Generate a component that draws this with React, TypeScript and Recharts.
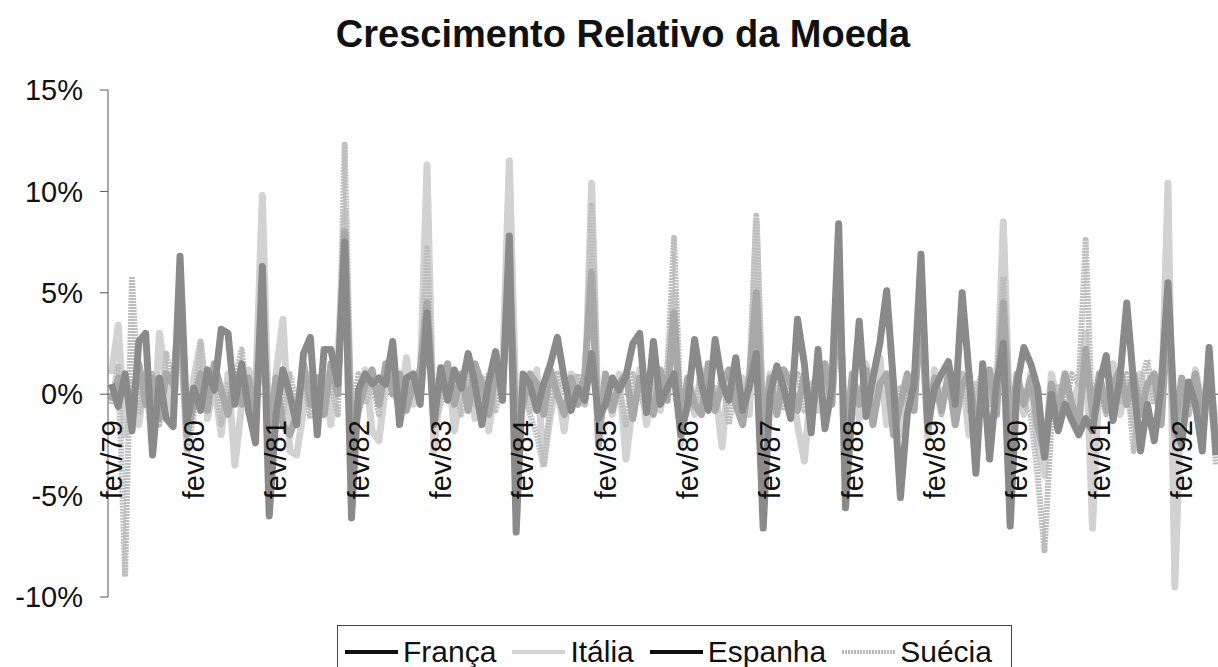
import { LineChart, Line, XAxis, YAxis, ReferenceLine } from "recharts";

// monthly relative growth (%), fev/79 .. jul/92, one row per year (fev..jan)
const MONTHS = ["jan", "fev", "mar", "abr", "mai", "jun", "jul", "ago", "set", "out", "nov", "dez"];
const FIRST_YEAR = 1979;
const FIRST_MONTH = 1; // fev

const FRANCA = [
  0.5, -0.6, 1.0, -1.8, 2.6, 3.0, -3.0, 0.8, -1.2, -1.6, 6.8, -1.4,
  0.3, -0.8, 1.2, 0.2, 3.2, 3.0, -0.5, 1.5, -0.8, -2.4, 6.3, -6.0,
  -1.0, 1.2, 0.0, -1.5, 2.0, 2.8, -2.0, 2.2, 2.2, 0.5, 7.5, -6.1,
  0.2, 1.0, 0.5, 0.8, 0.5, 2.6, -1.5, 0.8, 1.0, -0.5, 4.0, -1.5,
  1.3, -0.3, 1.2, 0.3, 2.0, 0.5, -1.5, 0.6, 2.1, -0.3, 7.8, -6.8,
  1.0, 0.5, -0.8, 0.5, 1.5, 2.8, 0.8, -0.8, 0.3, -0.3, 2.0, -1.2,
  -0.5, 0.8, 0.2, 0.9, 2.5, 3.0, -0.9, 2.6, -0.5, 0.3, 1.0, -2.0,
  -0.5, 2.7, 0.5, -0.8, 2.7, 0.6, -0.3, 1.8, -0.8, 0.4, 2.0, -6.6,
  0.0, 1.4, 0.3, -1.2, 3.7, 1.5, -1.9, 2.2, -1.7, 0.3, 8.4, -5.6,
  -0.5, 3.6, -1.1, 0.8, 2.5, 5.1, 0.5, -5.1, -1.0, 0.5, 6.9, -1.5,
  0.3, 1.0, 1.6, -0.5, 5.0, 1.0, -3.9, 1.5, -3.2, 0.5, 2.5, -6.5,
  0.5, 2.3, 1.5, 0.3, -3.1, 0.0, -1.8, -0.5, -1.3, -2.0, -1.2, -1.8,
  0.5, 1.9, -1.3, 0.8, 4.5, 0.5, -2.8, -0.5, -2.3, 0.3, 5.5, -1.5,
  -2.5, 0.6, -0.5, -2.8, 2.3, -3.0,
];

const ITALIA = [
  1.0, 3.4, -2.0, 0.5, -1.5, 1.0, -2.8, 3.0, 0.5, -1.0, 4.0, -1.8,
  0.8, 2.5, -1.2, 0.5, -2.0, 1.0, -3.5, -0.5, 1.2, 0.0, 9.8, -2.5,
  1.0, 3.7, -2.8, -3.0, -0.8, 1.0, -0.5, 0.8, -1.5, 1.5, 9.0, -2.0,
  -0.5, 1.2, -1.8, -2.3, 0.5, 1.0, -0.8, 1.8, -0.5, 0.5, 11.3, -2.8,
  0.5, 1.5, -1.8, 0.2, 1.0, -1.2, 0.8, -1.8, 0.5, 1.0, 11.5, -1.0,
  0.5, -0.8, 1.2, -3.4, -1.0, 0.5, -1.8, 1.0, 0.2, -0.5, 10.4, -2.0,
  0.3, -1.0, 1.0, -3.2, -0.5, 1.2, -1.5, 0.5, -0.8, 1.0, 5.0, -2.5,
  0.5, -1.0, 1.2, -0.5, 0.3, -2.6, 1.0, -0.5, 0.8, -1.0, 8.5, -1.8,
  1.0, -0.8, 0.5, 1.0, -1.5, -3.3, 0.5, -0.8, 1.2, -0.5, 5.5, -2.5,
  0.8, -1.2, 1.5, -0.5, 1.8, -1.5, 0.5, -2.0, 0.8, -0.5, 4.5, -2.2,
  1.2, -0.5, 0.8, -1.5, 1.0, -2.0, 0.5, -1.0, 1.0, -0.8, 8.5, -2.0,
  0.5, -1.0, 1.0, -2.5, -4.0, 1.0, -0.5, 1.0, -0.8, 0.5, 3.0, -6.6,
  0.8, -0.5, 1.5, -1.0, 0.5, -1.5, 1.0, -0.5, 0.8, -1.2, 10.4, -9.5,
  0.5, -1.0, 1.2, -0.5, 0.8, -1.5,
];

const ESPANHA = [
  -0.3, 0.8, 0.5, -0.8, 1.5, -0.5, 0.8, -1.2, 1.0, 0.5, 4.5, -2.0,
  -0.5, 1.0, -0.8, 1.5, 0.2, -1.0, 1.0, -0.5, 0.8, -1.2, 4.0, -2.0,
  0.8, -1.5, -2.0, -1.0, 1.5, -0.5, 0.8, -1.0, 1.5, 0.0, 8.0, -2.5,
  -0.8, 0.5, 1.2, -0.5, 1.5, 0.0, 1.0, -0.8, 0.5, 1.2, 4.5, -1.0,
  0.8, 1.5, -0.5, 1.0, -0.8, 1.5, 0.5, -1.0, 1.0, 0.3, 6.0, -1.8,
  -0.5, 1.0, 0.5, -1.0, 1.2, 0.0, -1.0, 0.8, -0.5, 1.0, 6.0, -2.5,
  1.0, -0.8, 0.5, 1.0, -1.2, 0.8, 0.3, -1.0, 1.2, -0.3, 4.0, -1.5,
  0.8, -0.5, -1.0, 1.5, -0.8, 0.5, 1.2, -0.5, -1.5, 0.8, 5.0, -2.0,
  0.8, -1.0, 1.2, 0.5, -0.8, 1.0, -1.0, 0.5, 1.5, -0.5, 5.5, -2.5,
  1.0, -0.5, 1.2, -1.5, 0.5, 1.0, -2.0, -0.5, 1.0, -0.8, 4.5, -1.8,
  0.8, -0.8, 1.0, -1.5, 0.5, 1.0, -1.5, -0.5, 1.2, -1.0, 4.5, -2.0,
  1.0, -0.5, 0.8, -1.5, -3.0, 0.5, -1.0, 1.0, -0.5, -1.5, 2.2, -1.0,
  1.0, -0.8, 0.5, 1.2, -0.5, 1.0, -1.0, 0.5, 1.0, -1.5, 4.0, -2.0,
  0.8, -0.5, 1.0, -1.0, 0.5, -2.5,
];

const SUECIA = [
  -0.5, 1.5, -9.0, 5.8, -1.0, 0.5, 1.0, -1.5, 2.0, 0.3, 3.0, -3.0,
  -1.0, 2.6, -0.5, 1.0, -1.5, 0.5, 0.8, 2.2, -1.0, 0.5, 5.0, -1.5,
  0.5, -1.0, 1.0, -0.5, 0.8, -1.2, 1.0, -0.3, 0.5, -1.0, 12.3, -1.5,
  1.0, -0.5, 0.5, -1.0, 1.2, 0.3, -0.8, 0.5, 1.0, -0.5, 7.2, -1.5,
  -0.5, 0.8, 0.3, -1.0, 1.0, -0.5, 0.3, 1.0, -0.8, 0.5, 5.0, -2.0,
  0.5, -1.0, -2.0, -3.6, -0.5, 1.0, 0.3, -0.8, 1.0, -0.5, 9.3, -1.5,
  0.8, -0.5, 0.3, -1.5, 1.0, 0.0, -0.8, 1.0, -0.5, 0.8, 7.7, -1.0,
  0.3, -0.8, 1.0, 0.0, -0.5, 1.0, -1.5, 0.5, -0.3, 1.0, 8.8, -1.5,
  -0.5, 1.0, -0.8, 0.5, 1.0, -0.8, 0.3, 1.0, -0.5, 0.8, 3.5, -2.0,
  1.0, -0.5, 0.8, -1.0, 0.5, 1.0, -0.8, 0.3, -0.5, 1.0, 3.0, -1.0,
  0.5, -1.0, 0.8, -0.5, 1.0, -0.8, 0.3, 1.0, -0.5, 0.8, 5.8, -1.0,
  0.5, -0.5, -1.0, -4.0, -7.7, -1.5, 0.5, -0.8, 1.0, 0.5, 7.6, -1.5,
  0.3, -1.0, 0.8, -0.5, 1.0, -2.8, 0.5, 1.7, -0.5, 1.0, 4.0, -2.5,
  0.5, -1.0, 1.0, -0.5, 0.8, -3.5,
];

const Y_TICKS = [-10, -5, 0, 5, 10, 15];

const LABELS = FRANCA.map((_, i) => {
  const m = FIRST_MONTH + i;
  const yr = FIRST_YEAR + Math.floor(m / 12);
  return `${MONTHS[m % 12]}/${String(yr).slice(2)}`;
});

const data = LABELS.map((label, i) => ({
  label,
  franca: FRANCA[i],
  italia: ITALIA[i],
  espanha: ESPANHA[i],
  suecia: SUECIA[i],
}));

const W = 1218;
const H = 667;
const PLOT_TOP = 90;
const PLOT_BOTTOM = 597;
const ZERO_Y = PLOT_TOP + ((PLOT_BOTTOM - PLOT_TOP) * 15) / 25;
const FONT = "Arial, 'Liberation Sans', sans-serif";

function MonthTick(props: any) {
  const { x, payload } = props;
  const y0 = ZERO_Y + 26;
  return (
    <text
      x={x}
      y={y0}
      transform={`rotate(-90, ${x}, ${y0})`}
      textAnchor="end"
      dy="0.35em"
      fontSize={29}
      fill="#111"
    >
      {payload.value}
    </text>
  );
}

const legendItems = [
  { name: "França", color: "#111", dash: undefined },
  { name: "Itália", color: "#d4d4d4", dash: undefined },
  { name: "Espanha", color: "#111", dash: undefined },
  { name: "Suécia", color: "#b8b8b8", dash: "2 1" },
];

export default function App() {
  return (
    <div
      style={{
        position: "absolute",
        left: 0,
        top: 0,
        width: W,
        height: H,
        overflow: "hidden",
        background: "#fff",
        fontFamily: FONT,
        color: "#111",
      }}
    >
      <div
        style={{
          position: "absolute",
          left: 0,
          top: 15,
          width: 1246,
          textAlign: "center",
          fontSize: 38,
          lineHeight: "38px",
          fontWeight: "bold",
        }}
      >
        Crescimento Relativo da Moeda
      </div>

      <LineChart
        width={W}
        height={H}
        data={data}
        margin={{ top: PLOT_TOP, right: 0, bottom: H - PLOT_BOTTOM - 1, left: 0 }}
      >
        <YAxis
          width={108}
          domain={[-10, 15]}
          ticks={Y_TICKS}
          tickFormatter={(v: number) => `${v}%`}
          tickSize={8}
          tickMargin={17}
          axisLine={{ stroke: "#555" }}
          tickLine={{ stroke: "#555" }}
          tick={{ fontSize: 29, fill: "#111" }}
        />
        <XAxis
          dataKey="label"
          interval={11}
          height={1}
          axisLine={false}
          tickLine={false}
          padding={{ left: 3.4, right: 2 }}
          tick={(p: any) => <MonthTick {...p} />}
        />
        <ReferenceLine y={0} stroke="#555" strokeWidth={1} />
        <Line type="linear" dataKey="italia" stroke="#d2d2d2" strokeWidth={7} dot={false} strokeLinejoin="round" isAnimationActive={false} />
        <Line type="linear" dataKey="suecia" stroke="#bdbdbd" strokeWidth={6} strokeDasharray="2 1" dot={false} strokeLinejoin="round" isAnimationActive={false} />
        <Line type="linear" dataKey="espanha" stroke="#a8a8a8" strokeWidth={7} dot={false} strokeLinejoin="round" isAnimationActive={false} />
        <Line type="linear" dataKey="franca" stroke="#8a8a8a" strokeWidth={7} dot={false} strokeLinejoin="round" isAnimationActive={false} />
      </LineChart>

      <div
        style={{
          position: "absolute",
          left: 337,
          top: 625,
          width: 675,
          height: 48,
          boxSizing: "border-box",
          border: "1px solid #444",
          padding: "6px 0 0 7px",
          display: "flex",
          alignItems: "center",
          fontSize: 30,
          lineHeight: "30px",
        }}
      >
        {legendItems.map((it) => (
          <div key={it.name} style={{ display: "flex", alignItems: "center", marginRight: 16 }}>
            <svg width={53} height={10} style={{ marginRight: 5 }}>
              <line x1={0} y1={5} x2={53} y2={5} stroke={it.color} strokeWidth={4} strokeDasharray={it.dash} />
            </svg>
            <span>{it.name}</span>
          </div>
        ))}
      </div>
    </div>
  );
}
